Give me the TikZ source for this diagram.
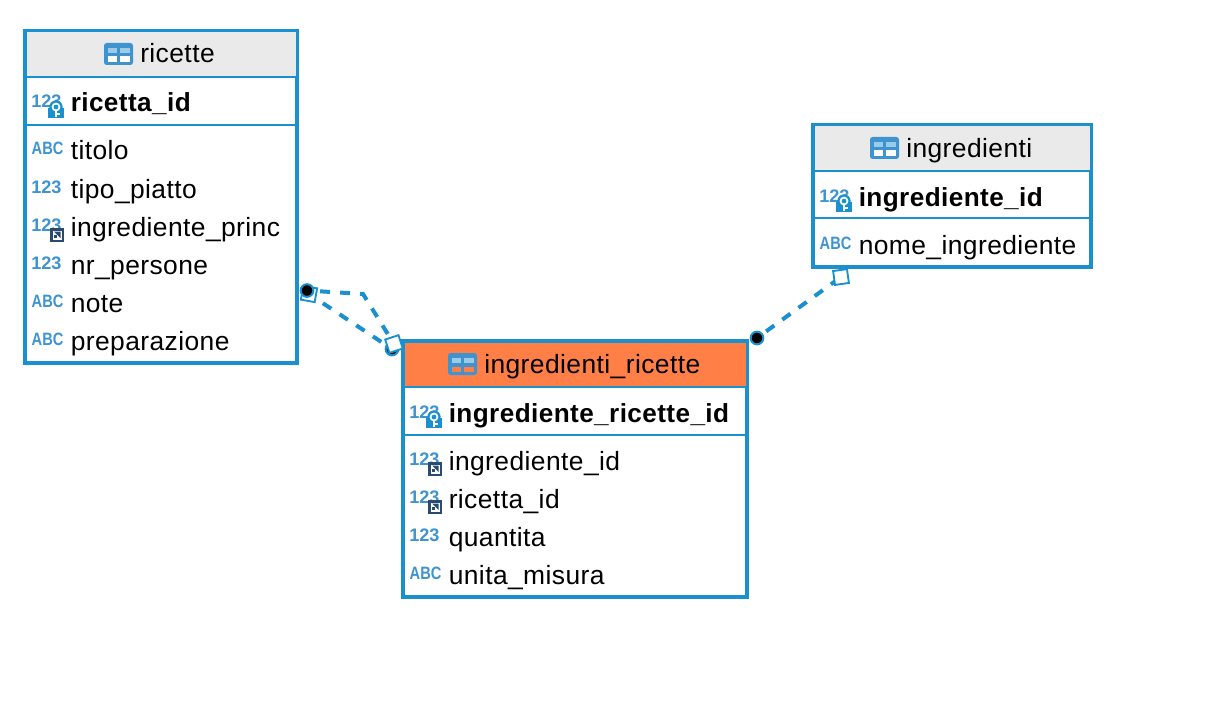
\documentclass[tikz,border=0pt]{standalone}
\usepackage{fontspec}
\setmainfont[LetterSpace=1.6]{Liberation Sans}
\newfontfamily\iconfont{Liberation Sans}[Scale=1]
\definecolor{frameblue}{HTML}{1A90CE}
\definecolor{iconblue}{HTML}{3F93CF}
\definecolor{iconlight}{HTML}{9CCBEA}
\definecolor{headgrey}{HTML}{EAEAEA}
\definecolor{headorange}{HTML}{FF7F47}
\definecolor{fkdark}{HTML}{2B4A6F}
\pgfdeclarelayer{bglayer}
\pgfdeclarelayer{connlayer}
\pgfsetlayers{bglayer,connlayer,main}
\tikzset{
  x=0.75pt,y=-0.75pt,
  tablebox/.style={draw=frameblue,line width=3pt,fill=white},
  sepline/.style={draw=frameblue,line width=1.4pt},
  coltext/.style={anchor=base west,inner sep=0pt,font=\fontsize{19.8}{21}\selectfont,text=black},
  keytext/.style={coltext,font=\fontsize{19.6}{21}\selectfont\bfseries},
  titletext/.style={anchor=base west,inner sep=0pt,font=\fontsize{19.8}{21}\selectfont,text=black},
  typetext/.style={anchor=base west,inner sep=0pt,font=\iconfont\fontsize{13.6}{14}\selectfont\bfseries,text=iconblue},
  abctext/.style={anchor=base west,inner sep=0pt,xscale=0.82,font=\iconfont\fontsize{13.4}{14}\selectfont\bfseries,text=iconblue},
  rel/.style={draw=frameblue,line width=3pt,dash pattern=on 7.5pt off 7.5pt},
  relbox/.style={draw=frameblue,line width=1.4pt,fill=white,rotate=#1,minimum size=10.5pt,inner sep=0pt},
  reldot/.style={circle,draw=frameblue,line width=1.5pt,fill=black,minimum size=9.5pt,inner sep=0pt},
  tabicon/.pic={
    \fill[iconblue,rounded corners=2pt] (-14.5,-11) rectangle (14.5,11);
    \fill[iconlight] (-11,-6) rectangle (-1.5,-1);
    \fill[iconlight] (1.5,-6) rectangle (11.5,-1);
    \fill[white] (-11,2.5) rectangle (-1.5,8);
    \fill[white] (1.5,2.5) rectangle (11.5,8);
  },
  tabiconorange/.pic={
    \fill[iconblue,rounded corners=2pt] (-14.5,-11) rectangle (14.5,11);
    \fill[iconlight] (-11,-6) rectangle (-1.5,-1);
    \fill[iconlight] (1.5,-6) rectangle (11.5,-1);
    \fill[headorange] (-11,2.5) rectangle (-1.5,8);
    \fill[headorange] (1.5,2.5) rectangle (11.5,8);
  },
  keyicon/.pic={
    \fill[frameblue] (-8,-2) rectangle (8,8);
    \fill[frameblue] (0,-3) circle (5pt);
    \draw[white,line width=1.3pt] (0,-3) circle (2.6pt);
    \fill[white] (-1.2,0.5) rectangle (1.2,7);
    \fill[white] (1.2,3) rectangle (3.8,5);
  },
  fkicon/.pic={
    \fill[fkdark] (-7,-7) rectangle (7,7);
    \fill[white] (-4.5,-4.5) rectangle (5,5);
    \fill[fkdark] (-3,-3.5) -- (3.5,-3.5) -- (3.5,3) -- cycle;
    \fill[fkdark] (-3.5,-0.5) rectangle (-0.5,3);
  }
}
\begin{document}
\begin{tikzpicture}
\useasboundingbox (0,0) rectangle (1230,706);
\begin{pgfonlayer}{bglayer}
\fill[white] (0,0) rectangle (1230,706);
\end{pgfonlayer}

% ricette
\draw[tablebox] (25,31) rectangle (297,363);
\fill[headgrey] (26.5,32.5) rectangle (295.5,76);
\draw[sepline] (25,77) -- (297,77);
\draw[sepline] (25,125) -- (297,125);
\pic at (118.5,54) {tabicon};
\node[titletext] (t1) at (140,63) {ricette};
\node[typetext] (t1k) at (31,108) {123};
\pic at (56,110) {keyicon};
\node[keytext] (c11) at (70.5,112) {ricetta\_id};
\node[abctext] (t12) at (31.5,155) {ABC};
\node[coltext] (c12) at (70.5,160) {titolo};
\node[typetext] (t13) at (31,193.5) {123};
\node[coltext] (c13) at (70.5,198) {tipo\_piatto};
\node[typetext] (t14) at (31,231.5) {123};
\pic at (57,235) {fkicon};
\node[coltext] (c14) at (70.5,236) {ingrediente\_princ};
\node[typetext] (t15) at (31,269.5) {123};
\node[coltext] (c15) at (70.5,274) {nr\_persone};
\node[abctext] (t16) at (31.5,307) {ABC};
\node[coltext] (c16) at (70.5,312) {note};
\node[abctext] (t17) at (31.5,345) {ABC};
\node[coltext] (c17) at (70.5,350) {preparazione};

% ingredienti
\draw[tablebox] (813,125) rectangle (1091,267);
\fill[headgrey] (814.5,126.5) rectangle (1089.5,170);
\draw[sepline] (813,171) -- (1091,171);
\draw[sepline] (813,218) -- (1091,218);
\pic at (884.5,148) {tabicon};
\node[titletext] (t2) at (906,157) {ingredienti};
\node[typetext] (t2k) at (819,202) {123};
\pic at (844,204) {keyicon};
\node[keytext] (c21) at (858.5,206) {ingrediente\_id};
\node[abctext] (t22) at (819.5,249) {ABC};
\node[coltext] (c22) at (858.5,254) {nome\_ingrediente};

% ingredienti_ricette
\draw[tablebox] (403,341) rectangle (747,597);
\fill[headorange] (404.5,342.5) rectangle (745.5,386);
\draw[sepline] (403,387) -- (747,387);
\draw[sepline] (403,435) -- (747,435);
\pic at (462.5,364) {tabiconorange};
\node[titletext] (t3) at (484,373) {ingredienti\_ricette};
\node[typetext] (t3k) at (409,418) {123};
\pic at (434,420) {keyicon};
\node[keytext] (c31) at (448.5,422) {ingrediente\_ricette\_id};
\node[typetext] (t32) at (409,465.5) {123};
\pic at (435,469) {fkicon};
\node[coltext] (c32) at (448.5,470) {ingrediente\_id};
\node[typetext] (t33) at (409,503.5) {123};
\pic at (435,507) {fkicon};
\node[coltext] (c33) at (448.5,508) {ricetta\_id};
\node[typetext] (t34) at (409,541.5) {123};
\node[coltext] (c34) at (448.5,546) {quantita};
\node[abctext] (t35) at (409.5,579) {ABC};
\node[coltext] (c35) at (448.5,584) {unita\_misura};

% connector ends
\node[reldot] (d1) at (392,349) {};
\node[relbox=-10] (b1) at (309,294) {};
\node[reldot] (d2) at (307,290.5) {};
\node[relbox=18] (b2) at (394,344) {};
\node[reldot] (d3) at (757,338) {};
\node[relbox=8] (b3) at (841,277) {};
\coordinate (bend) at (363,294);

\begin{pgfonlayer}{connlayer}
\draw[rel,shorten <=9.8pt] (d2.center) -- (bend) -- (b2.center);
\draw[rel,shorten <=12.5pt] (b1.center) -- (d1.center);
\draw[rel,shorten <=8.5pt] (d3.center) -- (b3.center);
\end{pgfonlayer}
\end{tikzpicture}
\end{document}
